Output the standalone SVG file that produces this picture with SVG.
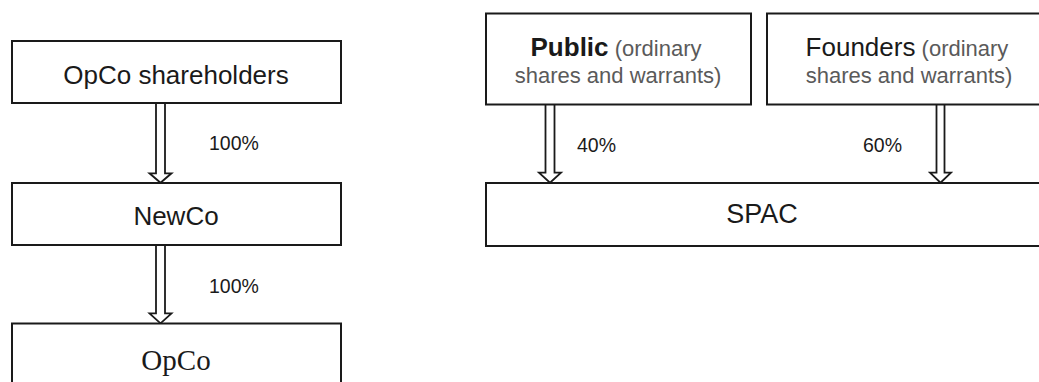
<svg xmlns="http://www.w3.org/2000/svg" width="1039" height="382" viewBox="0 0 1039 382">
<style>
.box{fill:#fff;stroke:#1a1a1a;stroke-width:2}
.t{font-family:"Liberation Sans",Arial,sans-serif;fill:#1a1a1a;text-anchor:middle}
.big{font-size:26px}
.g{font-size:22px;fill:#5a5a5a}
.lbl{font-family:"Liberation Sans",Arial,sans-serif;font-size:19.5px;fill:#1a1a1a}
.arr{fill:#fff;stroke:#1a1a1a;stroke-width:1.8;stroke-linejoin:miter}
</style>
<rect width="1039" height="382" fill="#fff"/>
<g id="connectors">
<path class="arr" d="M156 103 V173.3 H149.5 L160.5 182.7 L171.5 173.3 H165 V103"/>
<path class="arr" d="M156 245 V313.3 H149.5 L160.5 323.3 L171.5 313.3 H165 V245"/>
<path class="arr" d="M545.5 104 V172.7 H539 L550 182.7 L561 172.7 H554.5 V104"/>
<path class="arr" d="M936.5 104 V172.7 H930 L940.5 182.7 L951 172.7 H944.5 V104"/>
<text class="lbl" x="209" y="150">100%</text>
<text class="lbl" x="209" y="293">100%</text>
<text class="lbl" x="577" y="151.5">40%</text>
<text class="lbl" x="863" y="151.5">60%</text>
</g>
<g id="opco-shareholders">
<rect class="box" x="12" y="41" width="329" height="62"/>
<text class="t big" x="176" y="84">OpCo shareholders</text>
</g>
<g id="newco">
<rect class="box" x="12" y="183" width="329" height="62"/>
<text class="t big" x="176" y="225">NewCo</text>
</g>
<g id="opco">
<rect class="box" x="12" y="323.5" width="329" height="70"/>
<text x="176" y="370" style="font-family:'Liberation Serif','Times New Roman',serif;font-size:29px;fill:#1a1a1a;text-anchor:middle">OpCo</text>
</g>
<g id="public">
<rect class="box" x="486" y="13.5" width="265" height="91"/>
<text class="t" x="616" y="55.5"><tspan class="big" font-weight="bold">Public</tspan><tspan class="g"> (ordinary</tspan></text>
<text class="t g" x="618" y="83">shares and warrants)</text>
</g>
<g id="founders">
<rect class="box" x="767" y="13.5" width="284" height="91"/>
<text class="t" x="907" y="56"><tspan class="big">Founders</tspan><tspan class="g"> (ordinary</tspan></text>
<text class="t g" x="909" y="83">shares and warrants)</text>
</g>
<g id="spac">
<rect class="box" x="486" y="183" width="565" height="63"/>
<text class="t" x="762" y="223" style="font-size:27px">SPAC</text>
</g>
</svg>
